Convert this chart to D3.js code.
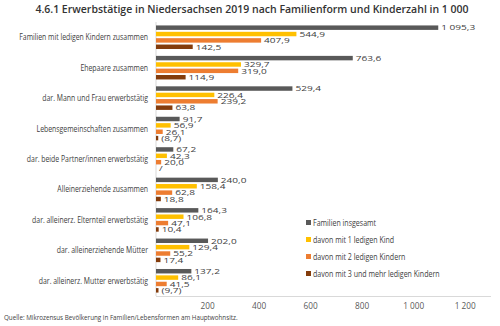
<!DOCTYPE html>
<html>
<head>
<meta charset="utf-8">
<script src="https://cdn.jsdelivr.net/npm/d3@7"></script>
<style>
  body { margin: 0; background: #fff; }
  svg { font-family: 'Open Sans', 'Noto Sans', sans-serif; }
</style>
</head>
<body>
<div id="chart"></div>
<script>
const categories = [
  'Familien mit ledigen Kindern zusammen',
  'Ehepaare zusammen',
  'dar. Mann und Frau erwerbstätig',
  'Lebensgemeinschaften zusammen',
  'dar. beide Partner/innen erwerbstätig',
  'Alleinerziehende zusammen',
  'dar. alleinerz. Elternteil erwerbstätig',
  'dar. alleinerziehende Mütter',
  'dar. alleinerz. Mutter erwerbstätig'
]
const seriesNames = [
  'Familien insgesamt',
  'davon mit 1 ledigen Kind',
  'davon mit 2 ledigen Kindern',
  'davon mit 3 und mehr ledigen Kindern'
]
const familienInsgesamt = [1095.3, 763.6, 529.4, 91.7, 67.2, 240.0, 164.3, 202.0, 137.2]
const einKind = [544.9, 329.7, 226.4, 56.9, 42.3, 158.4, 106.8, 129.4, 86.1]
const zweiKinder = [407.9, 319.0, 239.2, 26.1, 20.0, 62.8, 47.1, 55.2, 41.5]
const dreiKinder = [142.5, 114.9, 63.8, 8.7, null, 18.8, 10.4, 17.4, 9.7]
const tickValues = [200, 400, 600, 800, 1000, 1200]

const colors = ['#595959', '#ffc000', '#ed7d31', '#843c0c']
const allSeries = [familienInsgesamt, einKind, zweiKinder, dreiKinder]

const W = 500, H = 326
const svg = d3.select('#chart').append('svg').attr('width', W).attr('height', H)

// German number format: space as thousands separator, comma decimal
const de = d3.formatLocale({ decimal: ',', thousands: '\u2009', grouping: [3], currency: ['', '€'] })
const fmtTick = v => de.format(',')(v).replace('\u2009', ' ')
const fmtVal = v => {
  if (v == null) return '/'
  const s = de.format(',.1f')(v).replace('\u2009', ' ')
  return v < 10 ? '(' + s + ')' : s   // small counts shown in brackets
}

// the original uses a condensed face; squeeze Open Sans horizontally to match
function squeeze (str, size, target) {
  const t = svg.append('text').attr('font-size', size).text(str)
  const w = t.node().getComputedTextLength()
  t.remove()
  return target / w
}

const x = d3.scaleLinear().domain([0, 1300]).range([156, 491])
const y0 = d3.scaleBand().domain(categories).range([22, 296]).paddingInner(0.1).paddingOuter(0.05)
const y1 = d3.scaleBand().domain(d3.range(4)).range([0, y0.bandwidth()]).padding(0.3)

// title
svg.append('text')
  .attr('x', 252).attr('y', 13)
  .attr('text-anchor', 'middle')
  .attr('font-size', 10.5).attr('font-weight', 600).attr('fill', '#333')
  .text('4.6.1 Erwerbstätige in Niedersachsen 2019 nach Familienform und Kinderzahl in 1 000')

// axes lines
svg.append('line').attr('x1', x(0)).attr('x2', x(0)).attr('y1', 22).attr('y2', 296)
  .attr('stroke', '#d9d9d9')
svg.append('line').attr('x1', x(0)).attr('x2', x(1300)).attr('y1', 296.5).attr('y2', 296.5)
  .attr('stroke', '#d9d9d9')

// tick labels
const kTick = squeeze('1 000', 8.5, 21)
svg.append('g').selectAll('text').data(tickValues).enter().append('text')
  .attr('transform', d => 'translate(' + x(d) + ',309) scale(' + kTick + ',1)')
  .attr('text-anchor', 'middle')
  .attr('font-size', 8.5).attr('fill', '#595959')
  .text(fmtTick)

// category labels
const kCat = squeeze(categories[0], 9, 129)
svg.append('g').selectAll('text').data(categories).enter().append('text')
  .attr('transform', d => 'translate(148,' + (y0(d) + y0.bandwidth() / 2 + 3) + ') scale(' + kCat + ',1)')
  .attr('text-anchor', 'end')
  .attr('font-size', 9).attr('fill', '#404040')
  .text(d => d)

// bars and value labels
const kVal = squeeze('1 095,3', 8, 34)
const groups = svg.append('g').selectAll('g').data(categories).enter().append('g')
  .attr('transform', d => 'translate(0,' + y0(d) + ')')

groups.each(function (cat, ci) {
  const g = d3.select(this)
  const rows = allSeries.map((s, si) => ({ si: si, v: s[ci] }))
  g.selectAll('rect').data(rows.filter(d => d.v != null)).enter().append('rect')
    .attr('x', x(0)).attr('y', d => y1(d.si))
    .attr('width', d => x(d.v) - x(0))
    .attr('height', y1.bandwidth())
    .attr('fill', d => colors[d.si])
  g.selectAll('text').data(rows).enter().append('text')
    .attr('transform', d => 'translate(' + (x(d.v == null ? 0 : d.v) + 3) + ',' +
      (y1(d.si) + y1.bandwidth() / 2 + 2.8) + ') scale(' + kVal + ',1)')
    .attr('font-size', 8).attr('fill', '#404040')
    .text(d => fmtVal(d.v))
})

// legend
const kLeg = squeeze(seriesNames[3], 8.5, 127)
const leg = svg.append('g').selectAll('g').data(seriesNames).enter().append('g')
  .attr('transform', (d, i) => 'translate(306,' + (223 + i * 17) + ')')
leg.append('rect').attr('x', 0).attr('y', -3).attr('width', 5).attr('height', 5)
  .attr('fill', (d, i) => colors[i])
leg.append('text').attr('transform', 'translate(7,2.8) scale(' + kLeg + ',1)')
  .attr('font-size', 8.5).attr('fill', '#404040')
  .text(d => d)

// source
const srcText = 'Quelle: Mikrozensus Bevölkerung in Familien/Lebensformen am Hauptwohnsitz.'
const kSrc = squeeze(srcText, 7.8, 234)
svg.append('text')
  .attr('transform', 'translate(4,320) scale(' + kSrc + ',1)')
  .attr('font-size', 7.8).attr('fill', '#404040')
  .text(srcText)
</script>
</body>
</html>
